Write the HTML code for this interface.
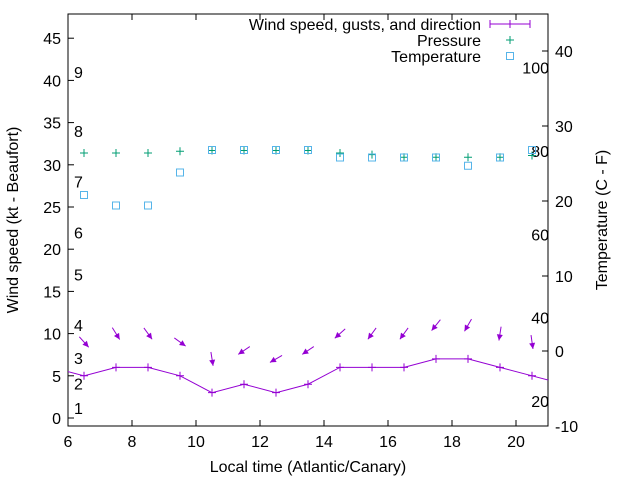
<!DOCTYPE html>
<html><head><meta charset="utf-8"><style>
body{margin:0;background:#fff}
svg text{font-family:"Liberation Sans",Arial,sans-serif;font-size:16px;fill:#000}
</style></head><body>
<svg id="c" width="640" height="480" xmlns="http://www.w3.org/2000/svg"></svg>
<script>
const hours=[6.5,7.5,8.5,9.5,10.5,11.5,12.5,13.5,14.5,15.5,16.5,17.5,18.5,19.5,20.5];
const wind=[5,6,6,5,3,4,3,4,6,6,6,7,7,6,5];
const gust=[9,10,10,9,7,8,7,8,10,10,10,11,11,10,9];
const windDir=[318,328,324,306,351,56,60,56,48,36,36,39,30,9,352];
const pressure=[31.4,31.4,31.4,31.6,31.7,31.7,31.7,31.7,31.4,31.2,30.9,30.9,30.9,30.9,31.1];
const tempC=[20.8,19.4,19.4,23.8,26.8,26.8,26.8,26.8,25.8,25.8,25.8,25.8,24.7,25.8,26.8];
const edgeHours=[5.5,21.5];
const edgeWind=[6,4];
const xTicks=[6,8,10,12,14,16,18,20];
const yTicks=[0,5,10,15,20,25,30,35,40,45];
const y2Ticks=[-10,0,10,20,30,40];
const fLabels=[20,40,60,80,100];
const beaufort=[1,2,3,4,5,6,7,8,9];
const beaufortKt=[1.2,4.1,7.1,11,17,22,28,34,41];

const L=68,R=548,T=14,B=426;
const X=h=>L+(h-6)*(R-L)/15;
const Y=v=>418-v*8.44;
const Y2=c=>351-c*7.5;
const svg=document.getElementById('c');
const NS='http://www.w3.org/2000/svg';
function mk(tag,attrs,parent){const e=document.createElementNS(NS,tag);for(const k in attrs)e.setAttribute(k,attrs[k]);(parent||svg).appendChild(e);return e;}
function txt(s,x,y,anchor,parent){const t=mk('text',{x:x,y:y,'text-anchor':anchor||'start'},parent);t.textContent=s;return t;}

const defs=mk('defs',{});
const cp=mk('clipPath',{id:'clip'},defs);mk('rect',{x:L,y:T,width:R-L,height:B-T},cp);

const frame=mk('rect',{x:L,y:T,width:R-L,height:B-T,fill:'none',stroke:'#000','stroke-width':1});


const xg=mk('g',{});
xTicks.forEach(v=>{const x=X(v);mk('line',{x1:x,y1:B,x2:x,y2:B-6,stroke:'#000'},xg);mk('line',{x1:x,y1:T,x2:x,y2:T+6,stroke:'#000'},xg);txt(String(v),x,447,'middle',xg);});
const yg=mk('g',{});
yTicks.forEach(v=>{const y=Y(v);mk('line',{x1:L,y1:y,x2:L+6,y2:y,stroke:'#000'},yg);txt(String(v),61,y+6,'end',yg);});
const y2g=mk('g',{});
y2Ticks.forEach(v=>{const y=Y2(v);mk('line',{x1:R,y1:y,x2:R-6,y2:y,stroke:'#000'},y2g);txt(String(v),555,y+6,'start',y2g);});
const fg=mk('g',{});
fLabels.forEach(f=>{const c=(f-32)*5/9;txt(String(f),549,Y2(c)+6,'end',fg);});
const bg=mk('g',{});
beaufort.forEach((b,i)=>{txt(String(b),74,Y(beaufortKt[i])+6,'start',bg);});

const xt=txt('Local time (Atlantic/Canary)',308,472,'middle');
const yt=txt('Wind speed (kt - Beaufort)',0,0,'middle');yt.setAttribute('transform','translate(18,220) rotate(-90)');
const y2t=txt('Temperature (C - F)',0,0,'middle');y2t.setAttribute('transform','translate(607,220) rotate(-90)');

const plot=mk('g',{'clip-path':'url(#clip)'});
const WC='#9400d3',PC='#009e73',TC='#56b4e9';
const allH=[edgeHours[0],...hours,edgeHours[1]],allW=[edgeWind[0],...wind,edgeWind[1]];
const wl=mk('polyline',{points:allH.map((h,i)=>X(h)+','+Y(allW[i])).join(' '),fill:'none',stroke:WC,'stroke-width':1},plot);

hours.forEach((h,i)=>{const x=X(h),y=Y(wind[i]);const p=mk('path',{d:`M${x-4},${y}h8M${x},${y-4}v8`,stroke:WC},plot);});
hours.forEach((h,i)=>{const cx=X(h),cy=Y(gust[i]);const b=(windDir[i]+180)*Math.PI/180;const dx=Math.sin(b),dy=-Math.cos(b);const len=14;
const x1=cx-dx*len/2,y1=cy-dy*len/2,x2=cx+dx*len/2,y2=cy+dy*len/2;
const g=mk('g',{},plot);
mk('line',{x1:x1,y1:y1,x2:x2,y2:y2,stroke:WC},g);
const px=-dy,py=dx,hl=6,hw=3;
mk('polygon',{points:`${x2},${y2} ${x2-dx*hl+px*hw},${y2-dy*hl+py*hw} ${x2-dx*hl-px*hw},${y2-dy*hl-py*hw}`,fill:WC},g);});
hours.forEach((h,i)=>{const x=X(h),y=Y(pressure[i]);const p=mk('path',{d:`M${x-4},${y}h8M${x},${y-4}v8`,stroke:PC},plot);});
hours.forEach((h,i)=>{const x=X(h),y=Y2(tempC[i]);const r=mk('rect',{x:x-3.5,y:y-3.5,width:7,height:7,fill:'none',stroke:TC},plot);});

const lg=mk('g',{});
txt('Wind speed, gusts, and direction',481,30,'end',lg);
mk('path',{d:'M490,24h40M490,20v8M530,20v8M510,20v8',stroke:WC},lg);
txt('Pressure',481,46,'end',lg);
mk('path',{d:'M506,40h8M510,36v8',stroke:PC},lg);
txt('Temperature',481,62,'end',lg);
mk('rect',{x:506.5,y:52.5,width:7,height:7,fill:'none',stroke:TC},lg);
</script>
</body></html>
